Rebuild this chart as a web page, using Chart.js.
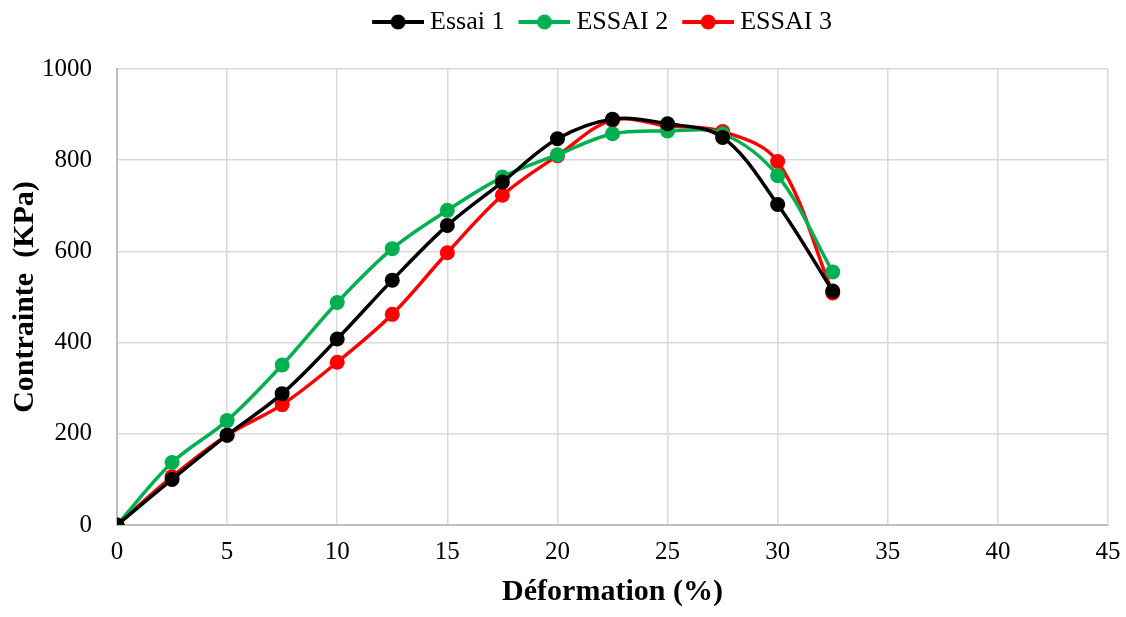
<!DOCTYPE html>
<html>
<head>
<meta charset="utf-8">
<script src="https://cdn.jsdelivr.net/npm/chart.js@4.4.0/dist/chart.umd.min.js"></script>
<style>
  html, body { margin: 0; padding: 0; background: #fff; }
  #wrap { width: 1126px; height: 617px; }
</style>
</head>
<body>
<div id="wrap"><canvas id="chart" width="1126" height="617"></canvas></div>
<script>
const deformation = [0, 2.5, 5, 7.5, 10, 12.5, 15, 17.5, 20, 22.5, 25, 27.5, 30, 32.5];
const essai1 = [0, 100, 197, 288, 408, 537, 657, 752, 847, 890, 880, 850, 703, 513];
const essai2 = [0, 137, 229, 351, 488, 606, 690, 763, 812, 858, 864, 858, 766, 555];
const essai3 = [0, 106, 197, 264, 357, 462, 597, 723, 810, 888, 875, 863, 797, 509];
const seriesNames = ['Essai 1', 'ESSAI 2', 'ESSAI 3'];
const seriesColors = ['#000000', '#00b050', '#ff0000'];

const FONT = "'Liberation Serif', 'Times New Roman', serif";

// line + marker swatch, drawn off-centre so the gap to the label text is small
function legendIcon(color) {
    const c = document.createElement('canvas');
    c.width = 64; c.height = 20;
    const g = c.getContext('2d');
    g.strokeStyle = color; g.lineWidth = 4;
    g.beginPath(); g.moveTo(12, 10); g.lineTo(64, 10); g.stroke();
    g.fillStyle = color;
    g.beginPath(); g.arc(38, 10, 7.5, 0, Math.PI * 2); g.fill();
    return c;
}

// push the plot down below the legend, and nudge the legend right like the original
const legendSpacing = {
    id: 'legendSpacing',
    beforeInit(chart) {
        const fit = chart.legend.fit;
        chart.legend.fit = function () {
            fit.call(this);
            this.height += 24;
        };
    },
    afterLayout(chart) {
        chart.legend.left += 34;
        chart.legend.right += 34;
    }
};

const toPoints = ys => ys.map((y, i) => ({ x: deformation[i], y }));

const datasets = [essai1, essai2, essai3].map((ys, i) => ({
    label: seriesNames[i],
    data: toPoints(ys),
    borderColor: seriesColors[i],
    backgroundColor: seriesColors[i],
    borderWidth: 3.5,
    pointRadius: 7.5,
    pointHoverRadius: 7.5,
    pointBorderWidth: 0,
    tension: 0.35,
    fill: false
}));

new Chart(document.getElementById('chart').getContext('2d'), {
    type: 'line',
    data: { datasets },
    plugins: [legendSpacing],
    options: {
        responsive: false,
        animation: false,
        layout: { padding: { left: 6, right: 1, top: 0, bottom: 0 } },
        plugins: {
            legend: {
                position: 'top',
                labels: {
                    font: { family: FONT, size: 26 },
                    color: '#000',
                    usePointStyle: true,
                    pointStyleWidth: 50,
                    boxHeight: 20,
                    padding: 9,
                    generateLabels: chart => chart.data.datasets.map((ds, i) => ({
                        text: ds.label,
                        pointStyle: legendIcon(ds.borderColor),
                        fillStyle: ds.borderColor,
                        strokeStyle: ds.borderColor,
                        lineWidth: 0,
                        datasetIndex: i,
                        hidden: false
                    }))
                }
            },
            tooltip: { enabled: false }
        },
        scales: {
            x: {
                type: 'linear',
                min: 0, max: 45,
                afterFit: s => { s.height = 92; s.paddingRight = 18; },
                ticks: { stepSize: 5, color: '#000', font: { family: FONT, size: 25 }, padding: 12 },
                grid: { color: '#d9d9d9', lineWidth: 1.5, drawTicks: false },
                border: { color: '#bfbfbf', width: 2 },
                title: { display: true, text: 'Déformation (%)', color: '#000', font: { family: FONT, size: 30, weight: 'bold' }, padding: { top: 0, bottom: 7 } }
            },
            y: {
                min: 0, max: 1000,
                afterFit: s => { s.width = 111; },
                ticks: { stepSize: 200, color: '#000', font: { family: FONT, size: 25 }, padding: 25, callback: v => String(v) },
                grid: { color: '#d9d9d9', lineWidth: 1.5, drawTicks: false },
                border: { color: '#bfbfbf', width: 2 },
                title: { display: true, text: 'Contrainte  (KPa)', color: '#000', font: { family: FONT, size: 30, weight: 'bold' }, padding: { top: 1, bottom: 0 } }
            }
        }
    }
});
</script>
</body>
</html>
